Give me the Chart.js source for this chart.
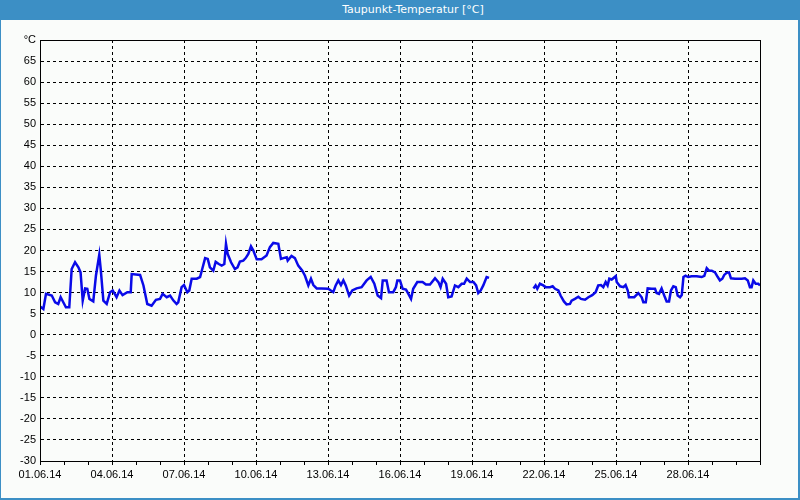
<!DOCTYPE html>
<html>
<head>
<meta charset="utf-8">
<script src="https://cdn.jsdelivr.net/npm/chart.js@4/dist/chart.umd.min.js"></script>
<style>
  html, body { margin: 0; padding: 0; background: #fafcfa; }
  #wrap { position: relative; width: 800px; height: 500px; box-sizing: border-box; overflow: hidden; }
  #frame { position: absolute; left: 0; top: 0; width: 800px; height: 500px; box-sizing: border-box;
           border-left: 1px solid #3c8fc5; border-right: 2px solid #3c8fc5; border-bottom: 2px solid #3c8fc5; pointer-events: none; }
  #head { position: absolute; left: 0; top: 0; width: 800px; height: 20px; background: #3c8fc5; color: #fff;
          font: 11px "DejaVu Sans", sans-serif; line-height: 20px; text-align: center; box-sizing: border-box; padding-left: 26px; }
  canvas { position: absolute; left: 0; top: 0; }
</style>
</head>
<body>
<div id="wrap">
  <canvas id="c" width="800" height="500"></canvas>
  <div id="head">Taupunkt-Temperatur [°C]</div>
  <div id="frame"></div>
</div>
<script>
// Day offset from 01.06.14 00:00
const days = [0,0.14,0.25,0.49,0.63,0.76,0.86,0.97,1.08,1.22,1.32,1.46,1.6,1.69,1.78,1.88,1.97,2.06,2.22,2.33,2.47,2.53,2.64,2.78,2.92,3.03,3.19,3.31,3.44,3.64,3.78,3.82,4.17,4.31,4.47,4.65,4.83,5.0,5.11,5.28,5.42,5.56,5.69,5.76,5.9,6.0,6.14,6.22,6.32,6.53,6.67,6.76,6.88,6.99,7.08,7.22,7.32,7.45,7.57,7.68,7.75,7.82,7.96,8.12,8.23,8.33,8.47,8.57,8.68,8.79,8.89,9.03,9.23,9.44,9.58,9.72,9.93,10.04,10.14,10.28,10.32,10.48,10.62,10.76,10.93,11.04,11.18,11.29,11.39,11.53,11.73,12.01,12.22,12.32,12.43,12.54,12.64,12.74,12.88,13.01,13.19,13.4,13.61,13.78,13.93,14.07,14.21,14.28,14.44,14.54,14.72,14.83,14.89,15.0,15.11,15.25,15.35,15.46,15.55,15.72,15.94,16.08,16.25,16.46,16.6,16.69,16.78,16.92,17.01,17.15,17.29,17.43,17.57,17.67,17.78,17.92,18.06,18.17,18.26,18.36,18.47,18.61,18.71,19.6,20.56,20.65,20.72,20.83,20.97,21.07,21.25,21.36,21.46,21.6,21.69,21.83,21.94,22.08,22.15,22.29,22.43,22.54,22.71,22.85,23.01,23.15,23.26,23.375,23.47,23.57,23.65,23.72,23.82,23.99,24.03,24.17,24.31,24.4,24.49,24.54,24.76,24.93,25.07,25.14,25.24,25.32,25.49,25.625,25.69,25.79,25.9,26.01,26.11,26.21,26.29,26.39,26.49,26.57,26.67,26.74,26.81,26.9,27.01,27.15,27.36,27.57,27.68,27.78,27.875,27.99,28.125,28.24,28.33,28.43,28.51,28.61,28.71,28.79,28.96,29.1,29.24,29.375,29.49,29.58,29.65,29.72,29.82,29.93,30.0];
// Dew point temperature, °C (null = missing data)
const dewPoint = [6.7,6.1,9.7,9.3,7.7,7.3,8.9,7.7,6.5,6.5,15.6,17.2,16,14.8,8.1,11,10.9,8.5,7.9,14,19,15.6,8.1,7.3,10.1,10.5,8.9,10.5,9.4,10.1,10.1,14.4,14.2,11.7,7.3,6.9,8.3,8.5,9.7,8.9,9.3,8.1,7.3,7.7,11.3,11.8,10.1,10.5,13.3,13.3,13.7,15.6,18.2,18,16,15.2,17.3,16.8,16.4,16.8,21.6,19.2,17.2,15.6,16,17.4,17.6,18.2,19.2,21,20,17.9,17.9,18.8,20.8,21.8,21.6,18,18.2,18.4,17.6,18.7,18.2,16.4,15.2,14,11.7,13.3,11.8,11,11,10.9,10.1,11.7,12.9,11.8,12.9,11.7,9.3,10.5,11,11.3,12.9,13.7,12.1,9.3,8.7,12.9,12.9,10.1,10.1,11.3,12.9,12.9,10.9,10.7,9.7,8.5,10.9,12.5,12.5,11.9,11.9,13.4,12.5,11.3,13.3,12.1,8.9,9.1,11.7,11.3,12.1,12.1,13.3,12.5,12.5,11.7,9.9,10.5,11.7,13.7,13.5,null,11,11.7,10.9,12.1,11.7,11.3,11.3,11.5,10.9,10.5,9.3,7.9,7.2,7.3,8.1,8.5,9.0,8.5,8.3,8.9,9.4,10.1,11.7,11.8,11.3,12.5,11.7,13.3,13.1,13.9,12.5,11.5,11.3,11.8,10.5,8.9,8.9,9.9,8.9,7.7,7.7,11,10.9,10.9,9.9,9.7,11,9.3,7.9,7.9,10.5,11.5,11.3,9.3,8.9,9.4,13.7,14,13.7,13.9,13.9,13.7,14,15.8,15.2,15.2,14.8,13.7,12.9,13.3,14.2,14.7,14.8,13.4,13.3,13.3,13.3,13.4,12.9,11.3,11.3,12.9,12.1,12.1,11.7];
const xTickLabels = ['01.06.14','04.06.14','07.06.14','10.06.14','13.06.14','16.06.14','19.06.14','22.06.14','25.06.14','28.06.14'];
const yMin = -30, yMax = 70, yStep = 5;
const yTopLabel = '°C';

const points = days.map((d, i) => ({ x: d, y: dewPoint[i] }));

Chart.defaults.font.family = "'Liberation Sans', Arial, sans-serif";
Chart.defaults.font.size = 11;
Chart.defaults.color = '#000';

const framePlugin = {
  id: 'frame',
  afterDraw(chart) {
    const a = chart.chartArea, ctx = chart.ctx;
    ctx.save();
    ctx.strokeStyle = '#000';
    ctx.lineWidth = 1;
    ctx.setLineDash([]);
    ctx.strokeRect(Math.round(a.left) + 0.5, Math.round(a.top) + 0.5, Math.round(a.right - a.left), Math.round(a.bottom - a.top));
    ctx.restore();
  }
};

new Chart(document.getElementById('c'), {
  type: 'line',
  data: {
    datasets: [{
      data: points,
      borderColor: '#0a0ae8',
      borderWidth: 2.5,
      pointRadius: 0,
      tension: 0,
      spanGaps: false,
      fill: false
    }]
  },
  options: {
    responsive: false,
    animation: false,
    events: [],
    layout: { autoPadding: false, padding: { left: 0, right: 40, top: 40, bottom: 0 } },
    plugins: { legend: { display: false }, title: { display: false }, tooltip: { enabled: false } },
    scales: {
      x: {
        type: 'linear',
        min: 0, max: 30,
        afterFit(s) { s.height = 39; },
        ticks: {
          stepSize: 1,
          autoSkip: false,
          maxRotation: 0,
          padding: 3,
          callback: (v) => (v % 3 === 0 && v / 3 < xTickLabels.length) ? xTickLabels[v / 3] : ''
        },
        grid: {
          color: (c) => (c.tick && c.tick.value % 3 === 0) ? '#000' : 'rgba(0,0,0,0)',
          lineWidth: 1,
          tickColor: '#000',
          tickLength: 4,
          tickBorderDash: []
        },
        border: { display: true, color: '#000', width: 1, dash: [3, 3] }
      },
      y: {
        min: yMin, max: yMax,
        afterFit(s) { s.width = 40; },
        ticks: {
          stepSize: yStep,
          padding: 4,
          callback: (v) => v === yMax ? yTopLabel : String(v)
        },
        grid: { color: '#000', lineWidth: 1, drawTicks: false },
        border: { display: true, color: '#000', width: 1, dash: [3, 3] }
      }
    }
  },
  plugins: [framePlugin]
});
</script>
</body>
</html>
